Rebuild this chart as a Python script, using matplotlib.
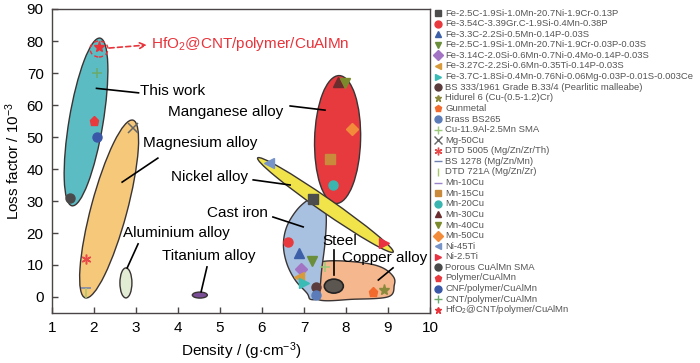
import numpy as np
import matplotlib
matplotlib.use('Agg')
import matplotlib.pyplot as plt
from matplotlib.patches import Ellipse
from matplotlib.lines import Line2D
import matplotlib.transforms as mtrans

plt.rcParams['font.family'] = ['Liberation Sans', 'DejaVu Sans']
plt.rcParams['mathtext.fontset'] = 'custom'
plt.rcParams['mathtext.rm'] = 'Liberation Sans'
plt.rcParams['mathtext.it'] = 'Liberation Sans:italic'
plt.rcParams['mathtext.bf'] = 'Liberation Sans:bold'
plt.rcParams['mathtext.default'] = 'regular'

# ---------------- data ----------------
series_labels = [
    "Fe-2.5C-1.9Si-1.0Mn-20.7Ni-1.9Cr-0.13P",
    "Fe-3.54C-3.39Gr.C-1.9Si-0.4Mn-0.38P",
    "Fe-3.3C-2.2Si-0.5Mn-0.14P-0.03S",
    "Fe-2.5C-1.9Si-1.0Mn-20.7Ni-1.9Cr-0.03P-0.03S",
    "Fe-3.14C-2.0Si-0.6Mn-0.7Ni-0.4Mo-0.14P-0.03S",
    "Fe-3.27C-2.2Si-0.6Mn-0.35Ti-0.14P-0.03S",
    "Fe-3.7C-1.8Si-0.4Mn-0.76Ni-0.06Mg-0.03P-0.01S-0.003Ce",
    "BS 333/1961 Grade B.33/4 (Pearlitic malleabe)",
    "Hidurel 6 (Cu-(0.5-1.2)Cr)",
    "Gunmetal",
    "Brass BS265",
    "Cu-11.9Al-2.5Mn SMA",
    "Mg-50Cu",
    "DTD 5005 (Mg/Zn/Zr/Th)",
    "BS 1278 (Mg/Zn/Mn)",
    "DTD 721A (Mg/Zn/Zr)",
    "Mn-10Cu",
    "Mn-15Cu",
    "Mn-20Cu",
    "Mn-30Cu",
    "Mn-40Cu",
    "Mn-50Cu",
    "Ni-45Ti",
    "Ni-2.5Ti",
    "Porous CuAlMn SMA",
    "Polymer/CuAlMn",
    "CNF/polymer/CuAlMn",
    "CNT/polymer/CuAlMn",
    "HfO$_2$@CNT/polymer/CuAlMn",
]
series_markers = ['s', 'o', '^', 'v', 'D', '<', '>', 'o', '*', 'p', 'o', '+', 'x',
                  (6, 2, 0), '_', '|', '_', 's', 'o', '^', 'v', 'D', '<', '>',
                  'o', 'p', 'o', '+', '*']
series_colors = ['#4d4d4d', '#e8393f', '#3c5fa8', '#6b8e3a', '#a374c4', '#d89a3a',
                 '#3bbbb5', '#5b3b3b', '#8b8a3c', '#f26a2e', '#5b7cb8', '#9cc87a',
                 '#666666', '#e84a4a', '#7080b0', '#a6c86a', '#9a84c8', '#c98a3c',
                 '#3bb5b0', '#6b2d2d', '#7b8a2a', '#f28c3a', '#7694c8', '#e83242',
                 '#4a4a4a', '#e8393f', '#3a58a8', '#6aaa6a', '#e8333a']
# density (g/cm3) and loss factor (1e-3) per series
series_x = [[7.21], [6.63], [6.89], [7.18], [6.94], [6.89], [7.00], [7.29], [8.90],
            [8.65], [7.29], [7.50], [2.93], [1.81], [1.81], [1.81], [], [7.62],
            [7.70], [7.82], [7.98], [8.14], [6.17], [8.90], [1.43], [2.00], [2.07],
            [2.07], [2.12]]
series_y = [[30.5], [17.3], [13.8], [11.3], [8.6], [6.3], [4.3], [3.0], [2.2],
            [1.7], [0.6], [9.5], [52.8], [11.9], [2.8], [1.2], [], [43.0],
            [35.0], [67.3], [67.0], [52.4], [41.8], [16.8], [31.0], [55.0], [50.0],
            [70.0], [78.1]]

# region outlines: (name, center x, center y, length px, width px, angle deg, colour)
ellipse_regions = [
    ("This work", 1.81, 54.7, 170, 34, 80.5, '#5bbcc4'),
    ("Magnesium alloy", 2.36, 27.5, 184, 36, 75.0, '#f5c87a'),
    ("Aluminium alloy", 2.76, 4.4, 30, 12, 90.0, '#e2ebd3'),
    ("Titanium alloy", 4.52, 0.6, 15, 6, 0.0, '#7a4e96'),
    ("Manganese alloy", 7.80, 49.2, 128, 46, 88.5, '#e63a3f'),
]
copper_x = [7.42, 7.86, 8.50, 8.89, 9.13, 9.15, 9.01, 8.18, 7.32, 7.32, 7.34]
copper_y = [11.0, 11.3, 10.5, 9.0, 6.3, 3.75, 0.1, -0.7, -0.7, 5.3, 9.5]
castiron_x = [7.31, 7.46, 7.53, 7.50, 7.42, 7.38, 7.34, 7.15, 7.07, 6.79, 6.59,
              6.51, 6.59, 6.83, 7.11]
castiron_y = [31.6, 29.8, 25.1, 16.9, 8.4, 2.2, -0.4, -0.7, 1.2, 5.3, 10.5,
              16.3, 22.0, 27.2, 30.5]
nickel_region = ("Nickel alloy", 7.51, 28.75, 165, 14, -34.8, '#f0e44a')
steel_region = ("Steel", 7.71, 3.4, 19, 14, 0.0, '#5c5650')

# labels: text, x, y, leader line (x0, y0, x1, y1)
region_labels = [
    ("This work", 3.10, 64.4, (3.06, 63.8, 2.06, 65.2)),
    ("Manganese alloy", 3.76, 57.8, (6.67, 59.7, 7.50, 58.4)),
    ("Magnesium alloy", 3.17, 48.1, (3.52, 43.4, 2.67, 35.9)),
    ("Nickel alloy", 3.83, 37.5, (5.79, 36.6, 6.67, 35.0)),
    ("Cast iron", 4.69, 26.25, (6.26, 25.0, 6.98, 21.9)),
    ("Aluminium alloy", 2.69, 20.0, (3.05, 16.6, 2.79, 9.1)),
    ("Titanium alloy", 3.62, 12.8, (4.69, 9.4, 4.55, 1.6)),
    ("Copper alloy", 7.91, 12.2, (9.12, 9.1, 8.77, 5.3)),
]
steel_label = ("Steel", 7.86, 17.5, (7.72, 14.7, 7.72, 6.9))
hfo2_label = ("HfO$_2$@CNT/polymer/CuAlMn", 3.36, 79.1, (2.36, 77.8, 3.26, 78.75))

xticks = list(range(1, 11))
yticks = list(range(0, 100, 10))

# ---------------- figure ----------------
W, H = 700, 363
fig = plt.figure(figsize=(W / 100, H / 100), dpi=100)
ax = fig.add_axes([52 / W, 1 - 313 / H, (430 - 52) / W, (313 - 9) / H])
ax.set_xlim(1, 10)
ax.set_ylim(-5, 90)

EDGE = '#3a3434'


def px_ellipse(cx, cy, length, width, angle, fc, z=1, **kw):
    tr = fig.dpi_scale_trans + mtrans.ScaledTranslation(cx, cy, ax.transData)
    e = Ellipse((0, 0), length / 100, width / 100, angle=angle, transform=tr,
                facecolor=fc, edgecolor=kw.pop('ec', EDGE), lw=kw.pop('lw', 1.0),
                zorder=z, **kw)
    ax.add_patch(e)
    return e


def smooth_closed(xs, ys, n=24):
    P = np.column_stack([xs, ys])
    m = len(P)
    out = []
    t = np.linspace(0, 1, n, endpoint=False)[:, None]
    for i in range(m):
        p0, p1, p2, p3 = P[i - 1], P[i], P[(i + 1) % m], P[(i + 2) % m]
        pts = 0.5 * ((2 * p1) + (-p0 + p2) * t + (2 * p0 - 5 * p1 + 4 * p2 - p3) * t ** 2
                     + (-p0 + 3 * p1 - 3 * p2 + p3) * t ** 3)
        out.append(pts)
    return np.vstack(out)


for name, cx, cy, L, Wd, ang, fc in ellipse_regions:
    px_ellipse(cx, cy, L, Wd, ang, fc, z=1)

cu = smooth_closed(copper_x, copper_y)
ax.fill(cu[:, 0], cu[:, 1], facecolor='#f5b88e', edgecolor=EDGE, lw=1.0, zorder=1)
ci = smooth_closed(castiron_x, castiron_y)
ax.fill(ci[:, 0], ci[:, 1], facecolor='#a8c1e0', edgecolor=EDGE, lw=1.0, zorder=1.2)
n = nickel_region
px_ellipse(n[1], n[2], n[3], n[4], n[5], n[6], z=1.5)
s = steel_region
px_ellipse(s[1], s[2], s[3], s[4], s[5], s[6], z=1.6, ec='#222222', lw=1.2)

# dashed ring and arrow for the highlighted sample
px_ellipse(2.12, 77.5, 18, 16, 0, 'none', z=4, ec='#e8333a', lw=1.0, ls=(0, (3, 2)))
t, lx, ly, (x0, y0, x1, y1) = hfo2_label
ax.annotate('', xy=(x1, y1), xytext=(x0, y0),
            arrowprops=dict(arrowstyle='->', color='#e8333a', lw=1.2,
                            linestyle=(0, (3, 2)), shrinkA=0, shrinkB=0,
                            mutation_scale=10), zorder=4)
ax.text(lx, ly, t, color='#e8333a', fontsize=11, va='center', ha='left', zorder=5)

for t, lx, ly, (x0, y0, x1, y1) in region_labels:
    ax.text(lx, ly, t, fontsize=11, va='center', ha='left', color='black', zorder=5)
    ax.plot([x0, x1], [y0, y1], color='black', lw=1.2, zorder=2.5)
t, lx, ly, (x0, y0, x1, y1) = steel_label
ax.text(lx, ly, t, fontsize=11, va='center', ha='center', color='black', zorder=5)
ax.plot([x0, x1], [y0, y1], color='black', lw=1.2, zorder=2.5)

line_markers = {'+', 'x', '_', '|'}
for xs, ys, mk, col in zip(series_x, series_y, series_markers, series_colors):
    if not xs:
        continue
    if isinstance(mk, str) and mk in line_markers or isinstance(mk, tuple):
        ax.plot(xs, ys, linestyle='none', marker=mk, color=col, ms=7, mew=1.1, zorder=3)
    else:
        ax.plot(xs, ys, linestyle='none', marker=mk, color=col, ms=6.5 if mk != '*' else 8,
                mec=col, zorder=3)

ax.set_xticks(xticks)
ax.set_yticks(yticks)
ax.tick_params(direction='in', length=4, width=1, colors='#4a4444', labelcolor='black',
               labelsize=11, pad=6)
for sp in ax.spines.values():
    sp.set_color('#4a4444')
    sp.set_linewidth(1.0)
ax.set_xlabel('Density / (g$\\cdot$cm$^{-3}$)', fontsize=11, labelpad=4)
ax.set_ylabel('Loss factor / 10$^{-3}$', fontsize=11, labelpad=3)

# legend (drawn manually at the right)
leg_mx, leg_tx, leg_y0, leg_dy = 438, 445, 13, 10.6
for i, (lab, mk, col) in enumerate(zip(series_labels, series_markers, series_colors)):
    yf = 1 - (leg_y0 + i * leg_dy) / H
    is_line = isinstance(mk, tuple) or mk in line_markers
    fig.add_artist(Line2D([leg_mx / W], [yf], marker=mk, color=col, linestyle='none',
                          ms=5 if not is_line else 5.5, mew=1.0,
                          transform=fig.transFigure))
    fig.text(leg_tx / W, yf, lab, fontsize=6.8, color='#555555', va='center', ha='left')

fig.savefig('out.png', dpi=100)
